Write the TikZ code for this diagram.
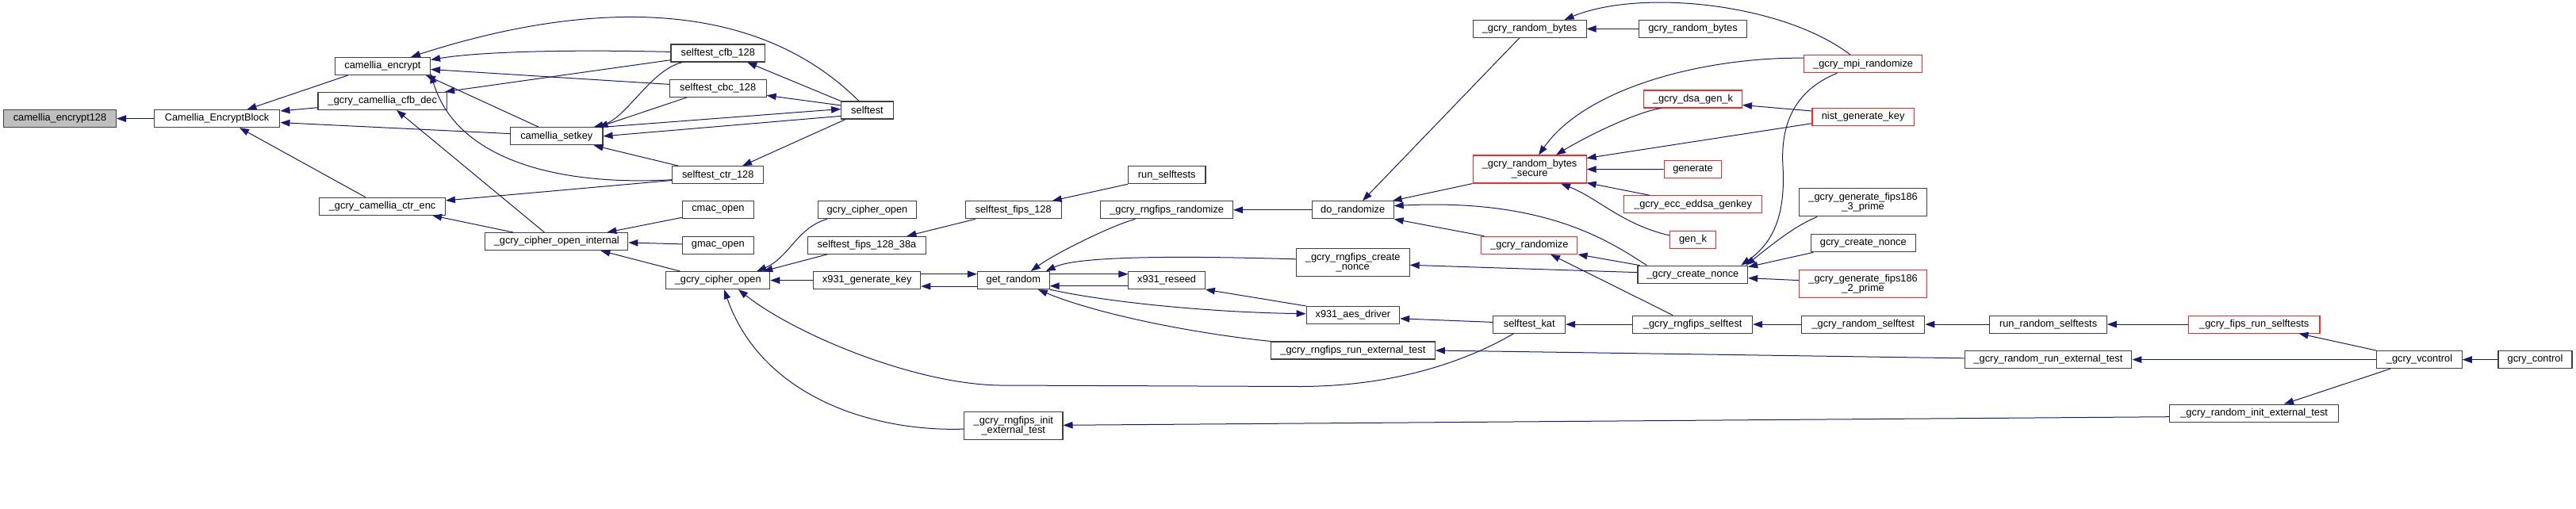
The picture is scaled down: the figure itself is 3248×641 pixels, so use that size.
\documentclass[tikz,border=0pt]{standalone}
\usepackage{fontspec}
\setmainfont{Liberation Sans}
\usepackage{tikz}
\usetikzlibrary{arrows.meta}
\definecolor{edgeblue}{RGB}{25,25,112}
\definecolor{boxline}{RGB}{64,64,64}
\definecolor{boxred}{RGB}{255,40,40}

\begin{document}
\begin{tikzpicture}[x=1pt, y=-1pt,
    fn/.style={draw=boxline, line width=1.1pt, minimum height=22pt, inner sep=0pt,
      font=\fontsize{12.8}{12.2}\selectfont, align=center},
    trunc/.style={fn, draw=boxred},
    two/.style={minimum height=35pt},
    call/.style={draw=edgeblue, line width=1pt, -{Triangle[length=12pt,width=8.5pt]}}]
    \useasboundingbox (0,0) rectangle (3248,641);
    \node[fn,fill=gray!50,minimum width=142pt] (enc128) at (75.5,149.6) {camellia\_encrypt128};
    \node[fn,minimum width=158.6pt] (encblock) at (273.6,149.6) {Camellia\_EncryptBlock};
    \node[fn,minimum width=120pt] (cencrypt) at (482.5,83.4) {camellia\_encrypt};
    \node[fn,minimum width=162.6pt] (cfbdec) at (482.3,127.3) {\_gcry\_camellia\_cfb\_dec};
    \node[fn,minimum width=158.5pt] (ctrenc) at (482.1,260.2) {\_gcry\_camellia\_ctr\_enc};
    \node[fn,minimum width=118.6pt] (stcfb) at (905.3,67) {selftest\_cfb\_128};
    \node[fn,minimum width=121.8pt] (stcbc) at (905.2,111.3) {selftest\_cbc\_128};
    \node[fn,minimum width=65.7pt] (selftest) at (1093.5,139) {selftest};
    \node[fn,minimum width=116.4pt] (setkey) at (701.8,171.8) {camellia\_setkey};
    \node[fn,minimum width=114.6pt] (stctr) at (905.2,220.7) {selftest\_ctr\_128};
    \node[fn,minimum width=89.3pt] (cmac) at (905.4,264.8) {cmac\_open};
    \node[fn,minimum width=89.3pt] (gmac) at (905.4,309.3) {gmac\_open};
    \node[fn,minimum width=180pt] (copenint) at (701.8,304.6) {\_gcry\_cipher\_open\_internal};
    \node[fn,minimum width=131pt] (copen) at (905.2,353.6) {\_gcry\_cipher\_open};
    \node[fn,minimum width=124pt] (gcopen) at (1093.4,264.8) {gcry\_cipher\_open};
    \node[fn,minimum width=149.7pt] (stf38a) at (1093,309.3) {selftest\_fips\_128\_38a};
    \node[fn,minimum width=135pt] (x931gk) at (1093.2,353.6) {x931\_generate\_key};
    \node[fn,minimum width=121pt] (stf128) at (1277.7,264.8) {selftest\_fips\_128};
    \node[fn,minimum width=97.5pt] (runst) at (1471.2,220.7) {run\_selftests};
    \node[fn,minimum width=166.7pt] (rngrand) at (1471.2,264.8) {\_gcry\_rngfips\_randomize};
    \node[fn,minimum width=90.7pt] (getrandom) at (1277.8,353.6) {get\_random};
    \node[fn,minimum width=96.4pt] (reseed) at (1471.1,353.6) {x931\_reseed};
    \node[fn,two,minimum width=124.3pt] (rnginit) at (1277.8,537.3) {\_gcry\_rngfips\_init\\\_external\_test};
    \node[fn,two,minimum width=142.8pt] (rngnonce) at (1705.7,331.3) {\_gcry\_rngfips\_create\\\_nonce};
    \node[fn,minimum width=206.8pt] (rngrun) at (1705.9,442) {\_gcry\_rngfips\_run\_external\_test};
    \node[fn,minimum width=142.9pt] (rbytes) at (1928.6,36.4) {\_gcry\_random\_bytes};
    \node[fn,minimum width=136pt] (grbytes) at (2134.5,36.4) {gcry\_random\_bytes};
    \node[trunc,two,minimum width=142.9pt] (rbsecure) at (1928.6,213.5) {\_gcry\_random\_bytes\\\_secure};
    \node[trunc,minimum width=124pt] (dsagenk) at (2134.4,125) {\_gcry\_dsa\_gen\_k};
    \node[trunc,minimum width=72.5pt] (generate) at (2134.5,213.6) {generate};
    \node[trunc,minimum width=173.5pt] (eddsa) at (2134.6,257.9) {\_gcry\_ecc\_eddsa\_genkey};
    \node[trunc,minimum width=57.5pt] (genk) at (2134.5,302.1) {gen\_k};
    \node[fn,minimum width=102.8pt] (dorand) at (1705.7,264.8) {do\_randomize};
    \node[trunc,minimum width=121pt] (grandomize) at (1928.4,309.3) {\_gcry\_randomize};
    \node[fn,minimum width=138.6pt] (cnonce) at (2134.3,346.2) {\_gcry\_create\_nonce};
    \node[fn,minimum width=117.5pt] (aesdrv) at (1705.9,397.5) {x931\_aes\_driver};
    \node[fn,minimum width=90.7pt] (stkat) at (1928.2,409.1) {selftest\_kat};
    \node[fn,minimum width=150.7pt] (rngst) at (2134.2,409.1) {\_gcry\_rngfips\_selftest};
    \node[trunc,minimum width=149.6pt] (mpirand) at (2349.1,80.7) {\_gcry\_mpi\_randomize};
    \node[trunc,minimum width=128.2pt] (nistgk) at (2349.1,147.1) {nist\_generate\_key};
    \node[fn,two,minimum width=160.4pt] (fips3) at (2349.1,255.4) {\_gcry\_generate\_fips186\\\_3\_prime};
    \node[fn,minimum width=132.2pt] (gcnonce) at (2349.3,306.8) {gcry\_create\_nonce};
    \node[trunc,two,minimum width=160.4pt] (fips2) at (2349.1,358) {\_gcry\_generate\_fips186\\\_2\_prime};
    \node[fn,minimum width=155pt] (rndst) at (2349.3,409.1) {\_gcry\_random\_selftest};
    \node[fn,minimum width=147.5pt] (runrst) at (2582.6,409.1) {run\_random\_selftests};
    \node[fn,minimum width=210.8pt] (rndrun) at (2582.5,453.6) {\_gcry\_random\_run\_external\_test};
    \node[trunc,minimum width=165.5pt] (fipsrun) at (2842.2,409.1) {\_gcry\_fips\_run\_selftests};
    \node[fn,minimum width=107.4pt] (vcontrol) at (3050.5,453.6) {\_gcry\_vcontrol};
    \node[fn,minimum width=93pt] (gcontrol) at (3196.5,453.6) {gcry\_control};
    \node[fn,minimum width=212.7pt] (rndinit) at (2842.2,521.1) {\_gcry\_random\_init\_external\_test};
    \draw[call] (encblock) -- (enc128);
    \draw[call] ([xshift=16.8pt]cencrypt.south west) -- ([xshift=37.9pt]encblock.north);
    \draw[call] ([yshift=-8.4pt]cfbdec.west) -- ([yshift=9.6pt]encblock.east);
    \draw[call] ([yshift=3.2pt]setkey.west) -- ([yshift=-5pt]encblock.east);
    \draw[call] ([xshift=-21.4pt]ctrenc.north) -- ([xshift=28.4pt]encblock.south);
    \draw[call] ([xshift=-10.5pt]selftest.north) .. controls (925.5,-29.5) and (674,21.5) .. ([xshift=35.5pt]cencrypt.north);
    \draw[call] ([yshift=1.6pt]stcfb.west) .. controls (700,62) and (600,66) .. ([yshift=8pt]cencrypt.east);
    \draw[call] ([yshift=4.9pt]stcbc.west) -- ([yshift=-4.1pt]cencrypt.east);
    \draw[call] ([xshift=-22.5pt]setkey.north) -- ([xshift=-6pt]cencrypt.south east);
    \draw[call] ([yshift=-6pt]stctr.west) .. controls (700,235) and (575,200) .. ([yshift=2pt]cencrypt.south east);
    \draw[call] ([yshift=-8.7pt]stcfb.west) -- ([xshift=-3pt]cfbdec.north east);
    \draw[call] ([xshift=-15.4pt]copenint.north) -- ([xshift=17.7pt]cfbdec.south);
    \draw[call] ([yshift=-6.8pt]stctr.west) -- ([yshift=7.3pt]ctrenc.east);
    \draw[call] ([xshift=-54.8pt]copenint.north) -- ([xshift=63pt]ctrenc.south);
    \draw[call] ([xshift=15pt]stcfb.south west) .. controls (820,88) and (790,150) .. ([xshift=-12pt]setkey.north east);
    \draw[call] ([xshift=22.5pt]stcbc.south west) -- ([xshift=-6pt]setkey.north east);
    \draw[call] (setkey.north east) -- ([yshift=1.5pt]selftest.west);
    \draw[call] ([yshift=-7.4pt]selftest.west) -- (setkey.east);
    \draw[call] ([xshift=8pt]stctr.north west) -- ([xshift=-12pt]setkey.south east);
    \draw[call] (selftest.north west) -- ([xshift=-23pt]stcfb.south east);
    \draw[call] ([yshift=6.1pt]selftest.west) -- ([yshift=-9pt]stcbc.east);
    \draw[call] ([xshift=6pt]selftest.south west) -- ([xshift=-27pt]stctr.north east);
    \draw[call] ([yshift=-9.5pt]cmac.west) -- ([xshift=-27pt]copenint.north east);
    \draw[call] ([yshift=1.4pt]gmac.west) -- ([yshift=-1.4pt]copenint.east);
    \draw[call] ([xshift=18.3pt]copen.north west) -- ([xshift=-35pt]copenint.south east);
    \draw[call] ([xshift=12pt]gcopen.south west) .. controls (1005,287) and (995,325) .. ([xshift=-17pt]copen.north east);
    \draw[call] ([xshift=25.4pt]stf38a.south west) -- ([xshift=-9pt]copen.north east);
    \draw[call] (x931gk) -- (copen);
    \draw[call] ([xshift=-19.6pt]stkat.south) .. controls (1850,455) and (1760,487) .. (1640,487.5) -- (1260,486) .. controls (1150,484) and (1000,420) .. ([xshift=25.8pt]copen.south);
    \draw[call] ([yshift=-3.8pt]rnginit.west) .. controls (1100,545) and (960,500) .. ([xshift=7.8pt]copen.south);
    \draw[call] ([yshift=7.9pt]x931gk.east) -- ([yshift=7.9pt]getrandom.west);
    \draw[call] ([yshift=-7.5pt]getrandom.west) -- ([yshift=-7.5pt]x931gk.east);
    \draw[call] ([xshift=13pt]stf128.south west) -- ([xshift=-25pt]stf38a.north east);
    \draw[call] (runst.south west) -- ([xshift=-12pt]stf128.north east);
    \draw[call] ([xshift=44pt]rngrand.south west) .. controls (1400,285) and (1330,320) .. ([xshift=22pt]getrandom.north);
    \draw[call] ([yshift=4.5pt]rngnonce.west) .. controls (1500,323) and (1360,322) .. ([xshift=-5pt]getrandom.north east);
    \draw[call] ([yshift=-7.1pt]reseed.west) -- ([yshift=-7.1pt]getrandom.east);
    \draw[call] ([yshift=7.9pt]getrandom.east) -- ([yshift=7.9pt]reseed.west);
    \draw[call] (getrandom.south east) .. controls (1400,382) and (1530,394) .. ([yshift=1.8pt]aesdrv.west);
    \draw[call] (rngrun.north west) .. controls (1500,420) and (1380,395) .. ([xshift=31pt]getrandom.south);
    \draw[call] (aesdrv.north west) -- (reseed.south east);
    \draw[call] ([yshift=2.7pt]stkat.west) -- ([yshift=-4.3pt]aesdrv.east);
    \draw[call] (dorand) -- (rngrand);
    \draw[call] ([yshift=2.6pt]cnonce.west) -- ([yshift=-3pt]rngnonce.east);
    \draw[call] ([yshift=1.8pt]rndrun.west) -- (rngrun.east);
    \draw[call] ([yshift=-4.6pt]rndinit.west) -- ([yshift=1pt]rnginit.east);
    \draw[call] ([xshift=-12.9pt]rbytes.south) -- ([xshift=12.3pt]dorand.north);
    \draw[call] (rbsecure.south west) -- ([xshift=-2pt]dorand.north east);
    \draw[call] ([xshift=12pt]cnonce.north west) .. controls (2030,305) and (1950,250) .. ([yshift=5.2pt]dorand.east);
    \draw[call] ([xshift=4pt]grandomize.north west) -- (dorand.south east);
    \draw[call] (grbytes) -- (rbytes);
    \draw[call] ([xshift=-16pt]mpirand.north) .. controls (2250,5) and (2070,-15) .. ([xshift=-28pt]rbytes.north east);
    \draw[call] ([yshift=7.5pt]mpirand.west) .. controls (2150,72) and (2000,110) .. ([xshift=11.4pt]rbsecure.north);
    \draw[call] ([xshift=22.5pt]dsagenk.south west) .. controls (2060,142) and (1995,175) .. ([xshift=33.4pt]rbsecure.north);
    \draw[call] ([yshift=-8.6pt]nistgk.west) -- ([yshift=14pt]rbsecure.east);
    \draw[call] (generate) -- (rbsecure);
    \draw[call] ([xshift=33pt]eddsa.north west) -- ([yshift=1pt]rbsecure.south east);
    \draw[call] ([yshift=5.1pt]genk.west) .. controls (2045,283) and (2015,250) .. ([xshift=39.4pt]rbsecure.south);
    \draw[call] ([yshift=7.1pt]nistgk.west) -- ([yshift=-7.5pt]dsagenk.east);
    \draw[call] ([xshift=3pt]cnonce.north west) -- (grandomize.south east);
    \draw[call] ([xshift=-25pt]rngst.north) -- ([xshift=26.6pt]grandomize.south);
    \draw[call] (rngst) -- (stkat);
    \draw[call] ([xshift=42.7pt]mpirand.south west) .. controls (2260,115) and (2245,160) .. (2248,210) .. controls (2252,280) and (2230,310) .. ([xshift=-9pt]cnonce.north east);
    \draw[call] ([xshift=23pt]fips3.south west) .. controls (2262,285) and (2230,312) .. ([xshift=-3pt]cnonce.north east);
    \draw[call] ([xshift=3.6pt]gcnonce.south west) -- ([yshift=-2pt]cnonce.north east);
    \draw[call] ([yshift=4.4pt]fips2.west) -- ([yshift=-4.5pt]cnonce.east);
    \draw[call] (rndst) -- (rngst);
    \draw[call] (runrst) -- (rndst);
    \draw[call] (fipsrun) -- (runrst);
    \draw[call] (vcontrol.north west) -- ([xshift=-27pt]fipsrun.south east);
    \draw[call] (vcontrol) -- (rndrun);
    \draw[call] ([xshift=17.6pt]vcontrol.south west) -- ([xshift=37.8pt]rndinit.north);
    \draw[call] (gcontrol) -- (vcontrol);
\end{tikzpicture}
\end{document}
